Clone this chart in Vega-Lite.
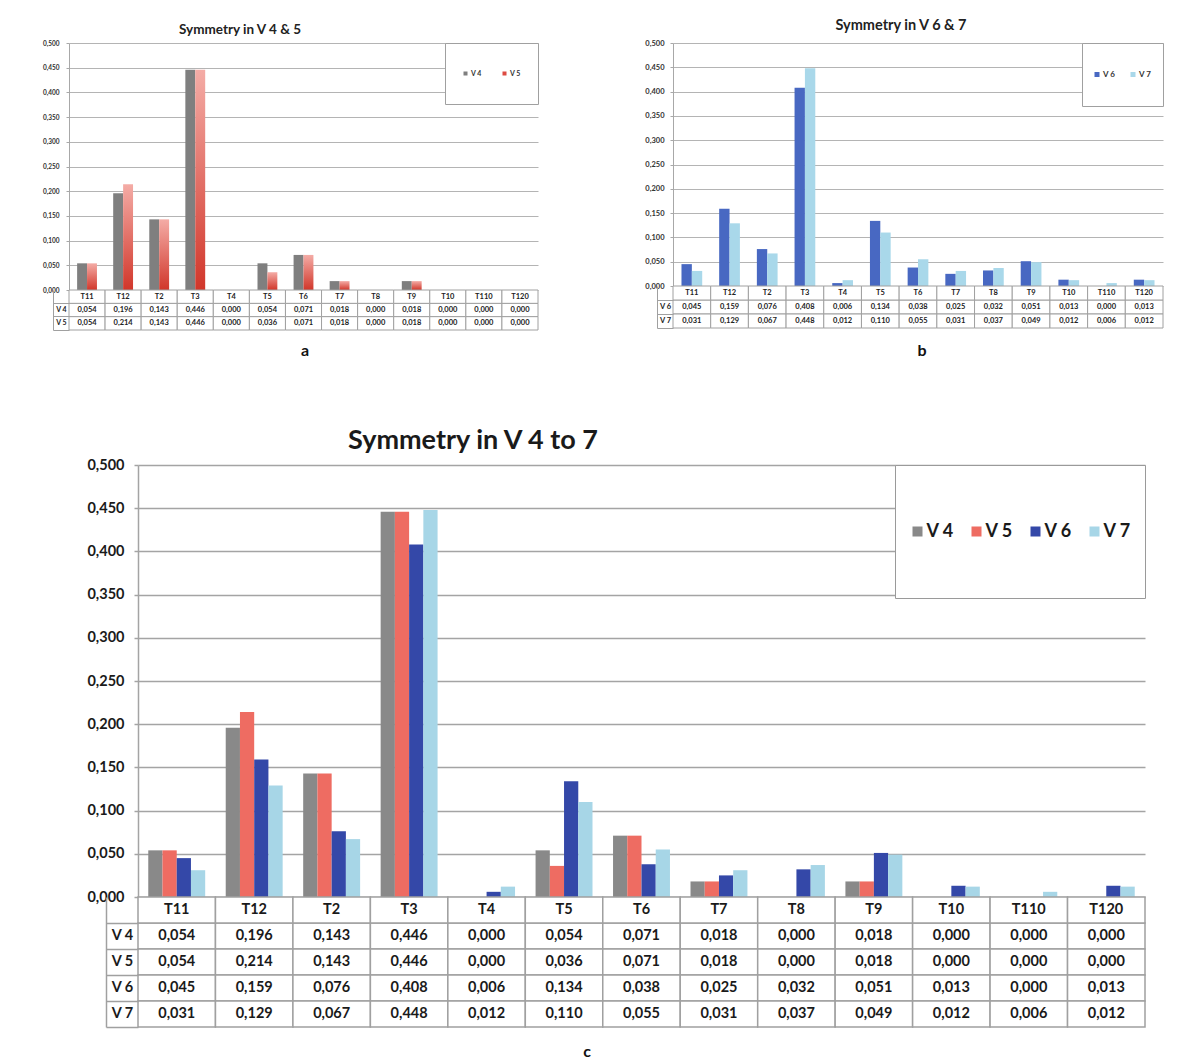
{
  "$schema": "https://vega.github.io/schema/vega-lite/v6.json",
  "background": "white",
  "padding": {"left": 4, "top": 17, "right": 0, "bottom": 0},
  "config": {
    "locale": {"number": {"decimal": ",", "thousands": ".", "grouping": [3], "currency": ["", " €"]}},
    "font": "Lato",
    "view": {"stroke": null}
  },
  "datasets": {
    "d": [
      {"cat": "T11", "ver": "V 4", "val": 0.054}, {"cat": "T12", "ver": "V 4", "val": 0.196}, {"cat": "T2", "ver": "V 4", "val": 0.143}, {"cat": "T3", "ver": "V 4", "val": 0.446}, {"cat": "T4", "ver": "V 4", "val": 0.0}, {"cat": "T5", "ver": "V 4", "val": 0.054}, {"cat": "T6", "ver": "V 4", "val": 0.071}, {"cat": "T7", "ver": "V 4", "val": 0.018}, {"cat": "T8", "ver": "V 4", "val": 0.0}, {"cat": "T9", "ver": "V 4", "val": 0.018}, {"cat": "T10", "ver": "V 4", "val": 0.0}, {"cat": "T110", "ver": "V 4", "val": 0.0}, {"cat": "T120", "ver": "V 4", "val": 0.0},
      {"cat": "T11", "ver": "V 5", "val": 0.054}, {"cat": "T12", "ver": "V 5", "val": 0.214}, {"cat": "T2", "ver": "V 5", "val": 0.143}, {"cat": "T3", "ver": "V 5", "val": 0.446}, {"cat": "T4", "ver": "V 5", "val": 0.0}, {"cat": "T5", "ver": "V 5", "val": 0.036}, {"cat": "T6", "ver": "V 5", "val": 0.071}, {"cat": "T7", "ver": "V 5", "val": 0.018}, {"cat": "T8", "ver": "V 5", "val": 0.0}, {"cat": "T9", "ver": "V 5", "val": 0.018}, {"cat": "T10", "ver": "V 5", "val": 0.0}, {"cat": "T110", "ver": "V 5", "val": 0.0}, {"cat": "T120", "ver": "V 5", "val": 0.0},
      {"cat": "T11", "ver": "V 6", "val": 0.045}, {"cat": "T12", "ver": "V 6", "val": 0.159}, {"cat": "T2", "ver": "V 6", "val": 0.076}, {"cat": "T3", "ver": "V 6", "val": 0.408}, {"cat": "T4", "ver": "V 6", "val": 0.006}, {"cat": "T5", "ver": "V 6", "val": 0.134}, {"cat": "T6", "ver": "V 6", "val": 0.038}, {"cat": "T7", "ver": "V 6", "val": 0.025}, {"cat": "T8", "ver": "V 6", "val": 0.032}, {"cat": "T9", "ver": "V 6", "val": 0.051}, {"cat": "T10", "ver": "V 6", "val": 0.013}, {"cat": "T110", "ver": "V 6", "val": 0.0}, {"cat": "T120", "ver": "V 6", "val": 0.013},
      {"cat": "T11", "ver": "V 7", "val": 0.031}, {"cat": "T12", "ver": "V 7", "val": 0.129}, {"cat": "T2", "ver": "V 7", "val": 0.067}, {"cat": "T3", "ver": "V 7", "val": 0.448}, {"cat": "T4", "ver": "V 7", "val": 0.012}, {"cat": "T5", "ver": "V 7", "val": 0.110}, {"cat": "T6", "ver": "V 7", "val": 0.055}, {"cat": "T7", "ver": "V 7", "val": 0.031}, {"cat": "T8", "ver": "V 7", "val": 0.037}, {"cat": "T9", "ver": "V 7", "val": 0.049}, {"cat": "T10", "ver": "V 7", "val": 0.012}, {"cat": "T110", "ver": "V 7", "val": 0.006}, {"cat": "T120", "ver": "V 7", "val": 0.012}
    ]
  },
  "spacing": 68,
  "resolve": {"scale": {"color": "independent", "xOffset": "independent"}, "legend": {"color": "independent"}},
  "vconcat": [
    {
      "spacing": 84,
      "resolve": {"scale": {"color": "independent", "xOffset": "independent"}, "legend": {"color": "independent"}},
      "hconcat": [
        {
          "spacing": 0,
          "bounds": "flush",
          "resolve": {"scale": {"color": "independent", "xOffset": "independent"}, "legend": {"color": "independent"}},
          "vconcat": [
            {
              "width": 469, "height": 247,
              "title": {"text": "Symmetry in V 4 & 5", "fontSize": 13.5, "fontWeight": "bold", "color": "#222", "frame": "group", "anchor": "start", "align": "center", "dx": 171, "offset": 4},
              "data": {"name": "d"},
              "transform": [{"filter": {"field": "ver", "oneOf": ["V 4", "V 5"]}}],
              "mark": {"type": "bar"},
              "encoding": {
                "x": {"field": "cat", "type": "nominal", "sort": null, "scale": {"domain": ["T11","T12","T2","T3","T4","T5","T6","T7","T8","T9","T10","T110","T120"], "paddingInner": 0.45, "paddingOuter": 0.225}, "axis": null},
                "xOffset": {"field": "ver", "type": "nominal", "scale": {"domain": ["V 4", "V 5"], "paddingInner": 0}},
                "y": {"field": "val", "type": "quantitative", "scale": {"domain": [0, 0.5], "nice": false},
                  "axis": {"title": null, "values": [0, 0.05, 0.1, 0.15, 0.2, 0.25, 0.3, 0.35, 0.4, 0.45, 0.5], "format": ".3f", "labelFontSize": 6.5, "labelFontWeight": "bold", "labelColor": "#333", "grid": true, "gridColor": "#b4b4b4", "gridWidth": 1, "domainColor": "#a8a8a8", "tickColor": "#a8a8a8", "tickSize": 3, "labelPadding": 7, "minExtent": 65, "maxExtent": 65}},
                "color": {"field": "ver", "type": "nominal",
                  "condition": {"test": "datum.ver === 'V 5'", "value": {"gradient": "linear", "x1": 0, "y1": 1, "x2": 0, "y2": 0, "stops": [{"offset": 0, "color": "#d1362a"}, {"offset": 1, "color": "#f4aca6"}]}},
                  "scale": {"domain": ["V 4", "V 5"], "range": ["#7f7f7f", "#dd4b42"]},
                  "legend": {"title": null, "orient": "top-right", "offset": 0, "direction": "horizontal", "symbolType": "square", "symbolSize": 16, "labelFontSize": 7, "labelFontWeight": "bold", "labelColor": "#333", "labelOffset": 2, "columnPadding": 19, "strokeColor": "#a0a0a0", "fillColor": "white", "padding": 17, "clipHeight": 27}}
              }
            },
            {
              "width": 469, "height": 40,
              "title": {"text": "a", "orient": "bottom", "fontSize": 16, "fontWeight": "bold", "color": "#111", "frame": "group", "anchor": "start", "align": "center", "dx": 236, "offset": 12},
              "data": {"name": "d"},
              "encoding": {
                "x": {"field": "cat", "type": "nominal", "sort": null, "scale": {"domain": ["T11","T12","T2","T3","T4","T5","T6","T7","T8","T9","T10","T110","T120"], "paddingInner": 0, "paddingOuter": 0}, "axis": null},
                "y": {"field": "ver", "type": "nominal", "sort": null, "scale": {"domain": ["H", "V 4", "V 5"], "paddingInner": 0, "paddingOuter": 0},
                  "axis": {"title": null, "offset": 16, "domain": true, "domainColor": "#a0a0a0", "ticks": true, "tickSize": -16, "tickColor": "#a0a0a0", "bandPosition": 1, "labelAlign": "center", "labelPadding": 8, "labelFontSize": 7, "labelFontWeight": "bold", "labelColor": "#222", "labelExpr": "datum.value == 'H' ? '' : datum.value", "grid": false, "minExtent": 49, "maxExtent": 49}}
              },
              "layer": [
                {"transform": [{"filter": {"field": "ver", "oneOf": ["V 4", "V 5"]}}], "mark": {"type": "rect", "fill": "white", "stroke": "#a0a0a0", "strokeWidth": 1}},
                {"transform": [{"filter": {"field": "ver", "oneOf": ["V 4", "V 5"]}}], "mark": {"type": "text", "fontSize": 7.5, "fontWeight": "bold", "color": "#222"}, "encoding": {"text": {"field": "val", "type": "quantitative", "format": ".3f"}}},
                {"transform": [{"filter": {"field": "ver", "equal": "V 4"}}], "mark": {"type": "rect", "fill": "white", "stroke": "#a0a0a0", "strokeWidth": 1}, "encoding": {"y": {"datum": "H", "type": "nominal"}}},
                {"transform": [{"filter": {"field": "ver", "equal": "V 4"}}], "mark": {"type": "text", "fontSize": 7.5, "fontWeight": "bold", "color": "#222"}, "encoding": {"y": {"datum": "H", "type": "nominal"}, "text": {"field": "cat", "type": "nominal"}}}
              ]
            }
          ]
        },
        {
          "spacing": 0,
          "bounds": "flush",
          "resolve": {"scale": {"color": "independent", "xOffset": "independent"}, "legend": {"color": "independent"}},
          "vconcat": [
            {
              "width": 490, "height": 243,
              "title": {"text": "Symmetry in V 6 & 7", "fontSize": 14.5, "fontWeight": "bold", "color": "#222", "frame": "group", "anchor": "start", "align": "center", "dx": 228, "offset": 6},
              "data": {"name": "d"},
              "transform": [{"filter": {"field": "ver", "oneOf": ["V 6", "V 7"]}}],
              "mark": {"type": "bar"},
              "encoding": {
                "x": {"field": "cat", "type": "nominal", "sort": null, "scale": {"domain": ["T11","T12","T2","T3","T4","T5","T6","T7","T8","T9","T10","T110","T120"], "paddingInner": 0.45, "paddingOuter": 0.225}, "axis": null},
                "xOffset": {"field": "ver", "type": "nominal", "scale": {"domain": ["V 6", "V 7"], "paddingInner": 0}},
                "y": {"field": "val", "type": "quantitative", "scale": {"domain": [0, 0.5], "nice": false},
                  "axis": {"title": null, "values": [0, 0.05, 0.1, 0.15, 0.2, 0.25, 0.3, 0.35, 0.4, 0.45, 0.5], "format": ".3f", "labelFontSize": 7.5, "labelFontWeight": "bold", "labelColor": "#333", "grid": true, "gridColor": "#b4b4b4", "gridWidth": 1, "domainColor": "#a8a8a8", "tickColor": "#a8a8a8", "tickSize": 3, "labelPadding": 6, "minExtent": 50, "maxExtent": 50}},
                "color": {"field": "ver", "type": "nominal",
                  "scale": {"domain": ["V 6", "V 7"], "range": ["#4868c2", "#a9d8ea"]},
                  "legend": {"title": null, "orient": "top-right", "offset": 0, "direction": "horizontal", "symbolType": "square", "symbolSize": 25, "labelFontSize": 8, "labelFontWeight": "bold", "labelColor": "#333", "labelOffset": 2, "columnPadding": 13, "strokeColor": "#a0a0a0", "fillColor": "white", "padding": 11, "clipHeight": 41}}
              }
            },
            {
              "width": 490, "height": 42,
              "title": {"text": "b", "orient": "bottom", "fontSize": 16, "fontWeight": "bold", "color": "#111", "frame": "group", "anchor": "start", "align": "center", "dx": 249, "offset": 14},
              "data": {"name": "d"},
              "encoding": {
                "x": {"field": "cat", "type": "nominal", "sort": null, "scale": {"domain": ["T11","T12","T2","T3","T4","T5","T6","T7","T8","T9","T10","T110","T120"], "paddingInner": 0, "paddingOuter": 0}, "axis": null},
                "y": {"field": "ver", "type": "nominal", "sort": null, "scale": {"domain": ["H", "V 6", "V 7"], "paddingInner": 0, "paddingOuter": 0},
                  "axis": {"title": null, "offset": 16, "domain": true, "domainColor": "#a0a0a0", "ticks": true, "tickSize": -16, "tickColor": "#a0a0a0", "bandPosition": 1, "labelAlign": "center", "labelPadding": 8, "labelFontSize": 7.5, "labelFontWeight": "bold", "labelColor": "#222", "labelExpr": "datum.value == 'H' ? '' : datum.value", "grid": false, "minExtent": 34, "maxExtent": 34}}
              },
              "layer": [
                {"transform": [{"filter": {"field": "ver", "oneOf": ["V 6", "V 7"]}}], "mark": {"type": "rect", "fill": "white", "stroke": "#a0a0a0", "strokeWidth": 1}},
                {"transform": [{"filter": {"field": "ver", "oneOf": ["V 6", "V 7"]}}], "mark": {"type": "text", "fontSize": 7.5, "fontWeight": "bold", "color": "#222"}, "encoding": {"text": {"field": "val", "type": "quantitative", "format": ".3f"}}},
                {"transform": [{"filter": {"field": "ver", "equal": "V 6"}}], "mark": {"type": "rect", "fill": "white", "stroke": "#a0a0a0", "strokeWidth": 1}, "encoding": {"y": {"datum": "H", "type": "nominal"}}},
                {"transform": [{"filter": {"field": "ver", "equal": "V 6"}}], "mark": {"type": "text", "fontSize": 7.5, "fontWeight": "bold", "color": "#222"}, "encoding": {"y": {"datum": "H", "type": "nominal"}, "text": {"field": "cat", "type": "nominal"}}}
              ]
            }
          ]
        }
      ]
    },
    {
      "spacing": 16,
      "resolve": {"scale": {"color": "independent", "xOffset": "independent"}, "legend": {"color": "independent"}},
      "hconcat": [
        {"width": 1, "height": 1, "data": {"values": [{"k": ""}]}, "mark": {"type": "text", "text": ""}, "encoding": {}},
        {
          "spacing": 0,
          "bounds": "flush",
          "resolve": {"scale": {"color": "independent", "xOffset": "independent"}, "legend": {"color": "independent"}},
          "vconcat": [
            {
              "width": 1007, "height": 432,
              "title": {"text": "Symmetry in V 4 to 7", "fontSize": 27, "fontWeight": "bold", "color": "#1a1a1a", "frame": "group", "anchor": "start", "align": "center", "dx": 335, "offset": 2},
              "data": {"name": "d"},
              "mark": {"type": "bar"},
              "encoding": {
                "x": {"field": "cat", "type": "nominal", "sort": null, "scale": {"domain": ["T11","T12","T2","T3","T4","T5","T6","T7","T8","T9","T10","T110","T120"], "paddingInner": 0.265, "paddingOuter": 0.1325}, "axis": null},
                "xOffset": {"field": "ver", "type": "nominal", "scale": {"domain": ["V 4", "V 5", "V 6", "V 7"], "paddingInner": 0}},
                "y": {"field": "val", "type": "quantitative", "scale": {"domain": [0, 0.5], "nice": false},
                  "axis": {"title": null, "values": [0, 0.05, 0.1, 0.15, 0.2, 0.25, 0.3, 0.35, 0.4, 0.45, 0.5], "format": ".3f", "labelFontSize": 14.5, "labelFontWeight": "bold", "labelColor": "#1a1a1a", "grid": true, "gridColor": "#a4a4a4", "gridWidth": 1.5, "domainColor": "#a4a4a4", "domainWidth": 1.5, "tickColor": "#a4a4a4", "tickWidth": 1.5, "tickSize": 4, "labelPadding": 10, "minExtent": 51, "maxExtent": 51}},
                "color": {"field": "ver", "type": "nominal",
                  "scale": {"domain": ["V 4", "V 5", "V 6", "V 7"], "range": ["#898989", "#ee6c62", "#3448a8", "#a7d6e7"]},
                  "legend": {"title": null, "orient": "top-right", "offset": 0, "direction": "horizontal", "symbolType": "square", "symbolSize": 100, "labelFontSize": 18, "labelFontWeight": "bold", "labelColor": "#1a1a1a", "labelOffset": 0, "columnPadding": 13, "strokeColor": "#9a9a9a", "fillColor": "white", "padding": 13.5, "clipHeight": 106}}
              }
            },
            {
              "width": 1007, "height": 130,
              "title": {"text": "c", "orient": "bottom", "fontSize": 16, "fontWeight": "bold", "color": "#111", "frame": "group", "anchor": "start", "align": "center", "dx": 449, "offset": 16},
              "data": {"name": "d"},
              "encoding": {
                "x": {"field": "cat", "type": "nominal", "sort": null, "scale": {"domain": ["T11","T12","T2","T3","T4","T5","T6","T7","T8","T9","T10","T110","T120"], "paddingInner": 0, "paddingOuter": 0}, "axis": null},
                "y": {"field": "ver", "type": "nominal", "sort": null, "scale": {"domain": ["H", "V 4", "V 5", "V 6", "V 7"], "paddingInner": 0, "paddingOuter": 0},
                  "axis": {"title": null, "offset": 32, "domain": true, "domainColor": "#a0a0a0", "domainWidth": 1.5, "ticks": true, "tickSize": -32, "tickColor": "#a0a0a0", "tickWidth": 1.5, "bandPosition": 1, "labelAlign": "center", "labelPadding": 16, "labelFontSize": 14.5, "labelFontWeight": "bold", "labelColor": "#1a1a1a", "labelExpr": "datum.value == 'H' ? '' : datum.value", "grid": false, "minExtent": 19, "maxExtent": 19}}
              },
              "layer": [
                {"mark": {"type": "rect", "fill": "white", "stroke": "#a0a0a0", "strokeWidth": 1.5}},
                {"mark": {"type": "text", "fontSize": 14.5, "fontWeight": "bold", "color": "#1a1a1a"}, "encoding": {"text": {"field": "val", "type": "quantitative", "format": ".3f"}}},
                {"transform": [{"filter": {"field": "ver", "equal": "V 4"}}], "mark": {"type": "rect", "fill": "white", "stroke": "#a0a0a0", "strokeWidth": 1.5}, "encoding": {"y": {"datum": "H", "type": "nominal"}}},
                {"transform": [{"filter": {"field": "ver", "equal": "V 4"}}], "mark": {"type": "text", "fontSize": 14.5, "fontWeight": "bold", "color": "#1a1a1a"}, "encoding": {"y": {"datum": "H", "type": "nominal"}, "text": {"field": "cat", "type": "nominal"}}}
              ]
            }
          ]
        }
      ]
    }
  ]
}
